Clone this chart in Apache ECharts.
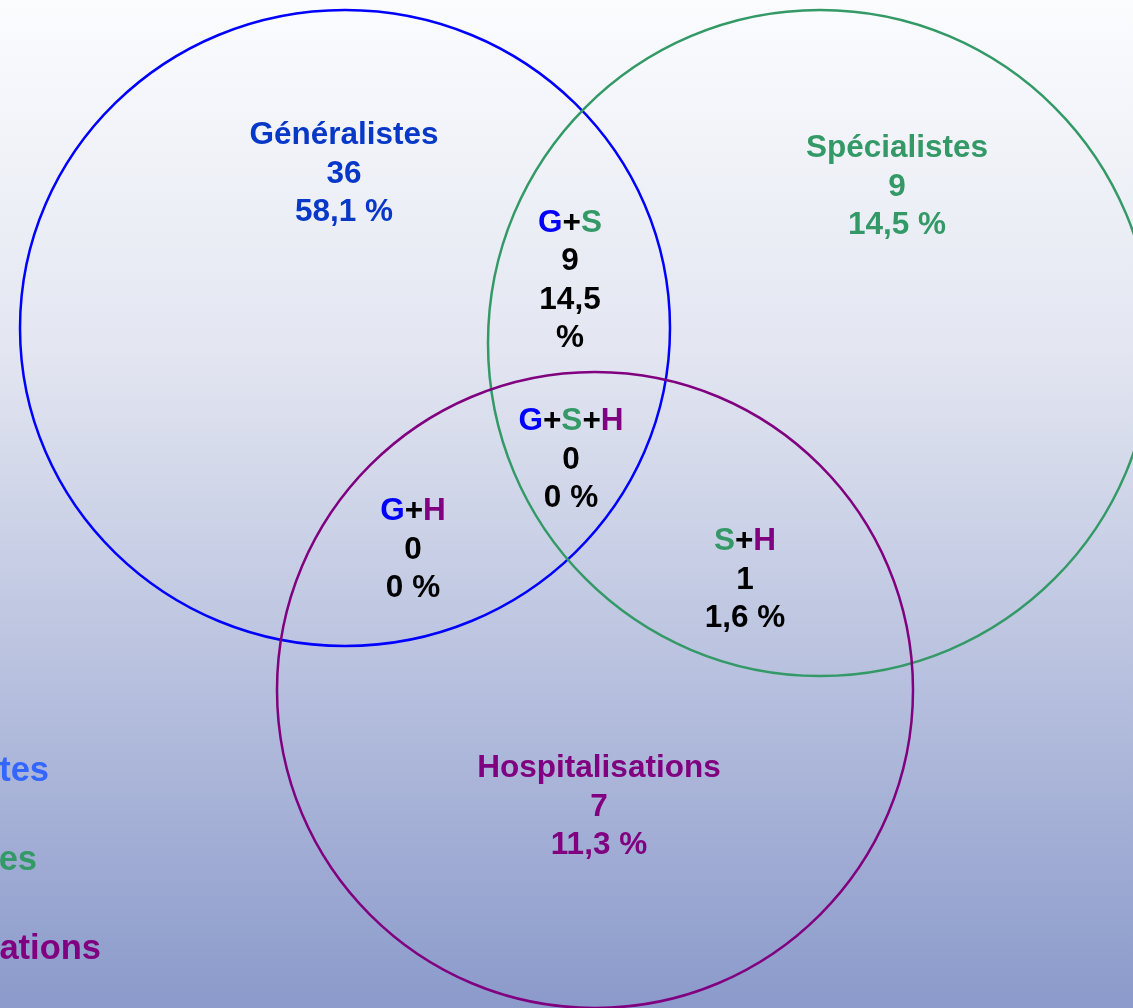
<!DOCTYPE html>
<html>
<head>
<meta charset="utf-8">
<style>
  html, body { margin: 0; padding: 0; }
  #chart { width: 1133px; height: 1008px; }
</style>
<script src="https://cdn.jsdelivr.net/npm/echarts@6/dist/echarts.min.js"></script>
</head>
<body>
<div id="chart"></div>
<script>
// ---- Data ----
const setNames = ['Généralistes', 'Spécialistes', 'Hospitalisations'];
const setCounts = [36, 9, 7];
const setPercents = ['58,1 %', '14,5 %', '11,3 %'];

const overlapKeys = ['G+S', 'G+S+H', 'G+H', 'S+H'];
const overlapCounts = [9, 0, 0, 1];
const overlapPercents = ['14,5 %', '0 %', '0 %', '1,6 %'];

// circle geometry (diagram units)
const circleX = [345, 820, 595];
const circleY = [328, 343, 690];
const circleRX = [325, 332, 318];
const circleRY = [318, 333, 318];

// label anchor positions (diagram units)
const setLabelX = [344, 897, 599];
const setLabelY = [174, 187, 807];
const overlapLabelX = [570, 571, 413, 745];
const overlapLabelY = [281, 460, 550, 580];

// ---- Styles ----
const strokeColors = ['#0000ff', '#339966', '#800080'];
const setLabelColors = ['#0838c8', '#339966', '#800080'];
const legendColors = ['#3366ff', '#339966', '#800080'];
const legendEndX = [49, 37, 101];   // legend text is clipped by the left edge
const FONT = '"Liberation Sans", Arial, sans-serif';
const FS = 31.5;
const LH = 38.5;

const chart = echarts.init(document.getElementById('chart'), null, { renderer: 'canvas' });

const circleSeries = setNames.map((name, i) => ({
  type: 'custom',
  name: name,
  coordinateSystem: 'cartesian2d',
  silent: true,
  clip: false,
  z: 2,
  data: [[circleX[i], circleY[i], circleRX[i], circleRY[i]]],
  renderItem: function (params, api) {
    const c = api.coord([api.value(0), api.value(1)]);
    const s = api.size([api.value(2), api.value(3)]);
    return {
      type: 'ellipse',
      shape: { cx: c[0], cy: c[1], rx: s[0], ry: s[1] },
      style: { fill: 'none', stroke: strokeColors[i], lineWidth: 2.5 }
    };
  }
}));

const letterStyle = { g: '#0000ff', s: '#339966', h: '#800080' };
function keyRich(key) {
  return key.split('+').map(ch => '{' + ch.toLowerCase() + '|' + ch + '}').join('{k|+}');
}
function rs(color) {
  return { color: color, fontSize: FS, fontWeight: 'bold', fontFamily: FONT, lineHeight: LH };
}
const rich = {
  g: rs(letterStyle.g),
  s: rs(letterStyle.s),
  h: rs(letterStyle.h),
  k: rs('#000000'),
  s0: rs(setLabelColors[0]),
  s1: rs(setLabelColors[1]),
  s2: rs(setLabelColors[2])
};

const labelData = [];
setNames.forEach((n, i) => {
  labelData.push({
    value: [setLabelX[i], setLabelY[i]],
    text: '{s' + i + '|' + n + '}\n{s' + i + '|' + setCounts[i] + '}\n{s' + i + '|' + setPercents[i] + '}'
  });
});
overlapKeys.forEach((k, i) => {
  // the narrow G+S lens wraps its percentage onto two lines
  const pct = (k === 'G+S') ? overlapPercents[i].split(' ').map(p => '{k|' + p + '}').join('\n')
                            : '{k|' + overlapPercents[i] + '}';
  labelData.push({
    value: [overlapLabelX[i], overlapLabelY[i]],
    text: keyRich(k) + '\n{k|' + overlapCounts[i] + '}\n' + pct
  });
});

const option = {
  animation: false,
  backgroundColor: {
    type: 'linear', x: 0, y: 0, x2: 0, y2: 1,
    colorStops: [
      { offset: 0, color: '#fbfcfe' },
      { offset: 0.35, color: '#e3e6f1' },
      { offset: 1, color: '#8b9acb' }
    ]
  },
  grid: { left: 0, right: 0, top: 0, bottom: 0 },
  xAxis: { type: 'value', min: 0, max: 1133, show: false },
  yAxis: { type: 'value', min: 0, max: 1008, inverse: true, show: false },
  graphic: setNames.map((n, i) => ({
    type: 'text',
    x: legendEndX[i],
    y: 771 + i * 89,
    silent: true,
    style: {
      text: n,
      fill: legendColors[i],
      font: 'bold 34.5px ' + FONT,
      align: 'right',
      verticalAlign: 'middle'
    }
  })),
  series: circleSeries.concat([{
    type: 'scatter',
    name: 'labels',
    silent: true,
    z: 5,
    symbolSize: 1,
    itemStyle: { color: 'rgba(0,0,0,0)', opacity: 1 },
    data: labelData.map(d => ({ value: d.value, text: d.text })),
    label: {
      show: true,
      position: 'inside',
      align: 'center',
      verticalAlign: 'middle',
      opacity: 1,
      formatter: function (p) { return p.data.text; },
      rich: rich
    }
  }])
};

chart.setOption(option);
</script>
</body>
</html>
